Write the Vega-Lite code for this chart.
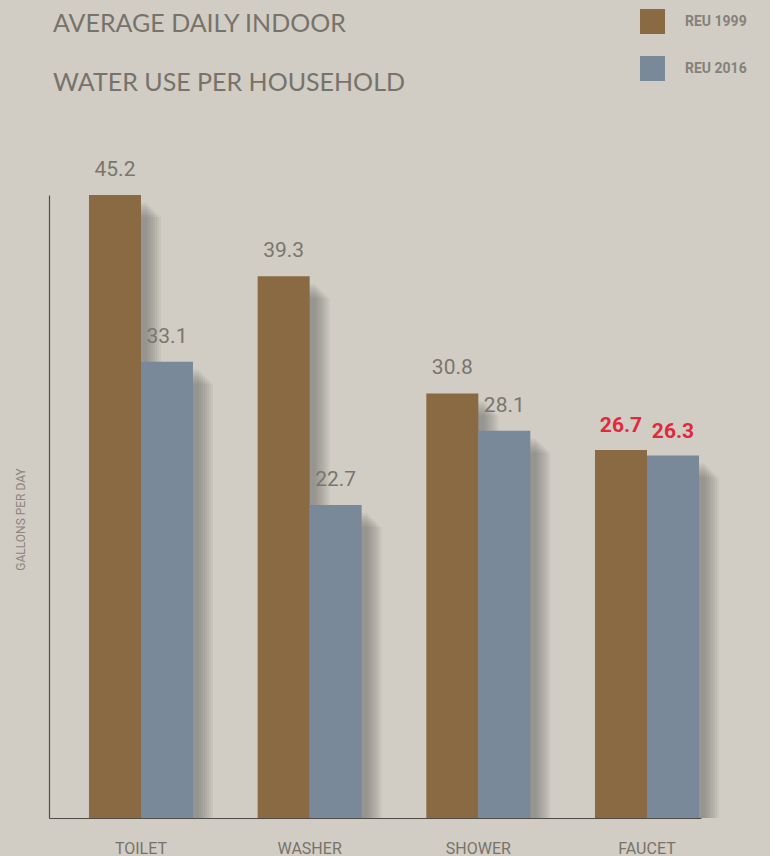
{
  "$schema": "https://vega.github.io/schema/vega-lite/v6.json",
  "width": 652,
  "height": 623,
  "autosize": {"type": "none"},
  "padding": {"left": 49, "top": 195, "right": 69, "bottom": 38},
  "background": "#d1cdc4",
  "title": {
    "text": ["AVERAGE DAILY INDOOR", "WATER USE PER HOUSEHOLD"],
    "anchor": "start",
    "frame": "group",
    "font": "Lato",
    "fontSize": 25,
    "fontWeight": "normal",
    "lineHeight": 59,
    "baseline": "alphabetic",
    "color": "#77736a",
    "offset": -107,
    "dx": 4
  },
  "config": {
    "view": {"stroke": null},
    "font": "Roboto"
  },
  "data": {
    "values": [
      {"fixture": "TOILET", "edition": "REU 1999", "gallons": 45.2},
      {"fixture": "TOILET", "edition": "REU 2016", "gallons": 33.1},
      {"fixture": "WASHER", "edition": "REU 1999", "gallons": 39.3},
      {"fixture": "WASHER", "edition": "REU 2016", "gallons": 22.7},
      {"fixture": "SHOWER", "edition": "REU 1999", "gallons": 30.8},
      {"fixture": "SHOWER", "edition": "REU 2016", "gallons": 28.1},
      {"fixture": "FAUCET", "edition": "REU 1999", "gallons": 26.7},
      {"fixture": "FAUCET", "edition": "REU 2016", "gallons": 26.3}
    ]
  },
  "encoding": {
    "x": {
      "field": "fixture",
      "type": "nominal",
      "sort": ["TOILET", "WASHER", "SHOWER", "FAUCET"],
      "scale": {"paddingInner": 0.3834, "paddingOuter": 0.1245, "align": 0.952},
      "axis": {
        "title": null,
        "labelAngle": 0,
        "ticks": false,
        "labelPadding": 22,
        "labelFontSize": 16,
        "labelColor": "#77736a",
        "labelFont": "Roboto",
        "domainColor": "#4f4c47",
        "domainWidth": 1.2,
        "zindex": 1
      }
    },
    "y": {
      "field": "gallons",
      "type": "quantitative",
      "stack": null,
      "scale": {"domain": [0, 45.2], "nice": false},
      "axis": {
        "title": "GALLONS PER DAY",
        "titleFont": "Roboto",
        "titleFontSize": 12,
        "titleFontWeight": "normal",
        "titleColor": "#8a867d",
        "titlePadding": 22,
        "titleY": 324,
        "labels": false,
        "ticks": false,
        "grid": false,
        "domainColor": "#4f4c47",
        "domainWidth": 1.2,
        "zindex": 1
      }
    }
  },
  "layer": [
    {"mark": {"type": "bar", "color": "#5c5850", "opacity": 0.07, "width": {"band": 0.5}, "xOffset": {"expr": "datum.edition === 'REU 1999' ? -20 : 32"}, "yOffset": 8, "y2Offset": 6, "clip": false}},
    {"mark": {"type": "bar", "color": "#5c5850", "opacity": 0.07, "width": {"band": 0.5}, "xOffset": {"expr": "datum.edition === 'REU 1999' ? -18 : 34"}, "yOffset": 10, "y2Offset": 8, "clip": false}},
    {"mark": {"type": "bar", "color": "#5c5850", "opacity": 0.07, "width": {"band": 0.5}, "xOffset": {"expr": "datum.edition === 'REU 1999' ? -16 : 36"}, "yOffset": 12, "y2Offset": 10, "clip": false}},
    {"mark": {"type": "bar", "color": "#5c5850", "opacity": 0.07, "width": {"band": 0.5}, "xOffset": {"expr": "datum.edition === 'REU 1999' ? -14 : 38"}, "yOffset": 14, "y2Offset": 12, "clip": false}},
    {"mark": {"type": "bar", "color": "#5c5850", "opacity": 0.07, "width": {"band": 0.5}, "xOffset": {"expr": "datum.edition === 'REU 1999' ? -12 : 40"}, "yOffset": 16, "y2Offset": 14, "clip": false}},
    {"mark": {"type": "bar", "color": "#5c5850", "opacity": 0.07, "width": {"band": 0.5}, "xOffset": {"expr": "datum.edition === 'REU 1999' ? -10 : 42"}, "yOffset": 18, "y2Offset": 16, "clip": false}},
    {"mark": {"type": "bar", "color": "#5c5850", "opacity": 0.07, "width": {"band": 0.5}, "xOffset": {"expr": "datum.edition === 'REU 1999' ? -8 : 44"}, "yOffset": 20, "y2Offset": 17, "clip": false}},
    {"mark": {"type": "bar", "color": "#5c5850", "opacity": 0.07, "width": {"band": 0.5}, "xOffset": {"expr": "datum.edition === 'REU 1999' ? -6 : 46"}, "yOffset": 22, "y2Offset": 18, "clip": false}},
    {
      "mark": {"type": "bar", "opacity": 1},
      "encoding": {
        "xOffset": {"field": "edition", "type": "nominal", "scale": {"paddingInner": 0, "paddingOuter": 0}},
        "color": {
          "field": "edition",
          "type": "nominal",
          "scale": {"domain": ["REU 1999", "REU 2016"], "range": ["#8a6a43", "#7a8999"]},
          "legend": {
            "title": null,
            "orient": "none",
            "legendX": 591,
            "legendY": -186,
            "padding": 0,
            "symbolType": "square",
            "symbolSize": 625,
            "symbolStrokeWidth": 0,
            "symbolOpacity": 1,
            "rowPadding": 22,
            "labelOffset": 20,
            "labelFont": "Roboto",
            "labelFontSize": 14,
            "labelFontWeight": "bold",
            "labelColor": "#85817a"
          }
        }
      }
    },
    {
      "transform": [{"filter": "datum.fixture !== 'FAUCET'"}],
      "mark": {"type": "text", "baseline": "alphabetic", "dy": -19, "fontSize": 21, "color": "#7a766d", "font": "Roboto"},
      "encoding": {
        "xOffset": {"field": "edition", "type": "nominal", "scale": {"paddingInner": 0, "paddingOuter": 0}},
        "text": {"field": "gallons", "type": "quantitative", "format": ".1f"}
      }
    },
    {
      "transform": [{"filter": "datum.fixture === 'FAUCET'"}],
      "mark": {"type": "text", "baseline": "alphabetic", "dy": -18, "fontSize": 21, "fontWeight": "bold", "color": "#e0293c", "font": "Roboto"},
      "encoding": {
        "xOffset": {"field": "edition", "type": "nominal", "scale": {"paddingInner": 0, "paddingOuter": 0}},
        "text": {"field": "gallons", "type": "quantitative", "format": ".1f"}
      }
    }
  ]
}
